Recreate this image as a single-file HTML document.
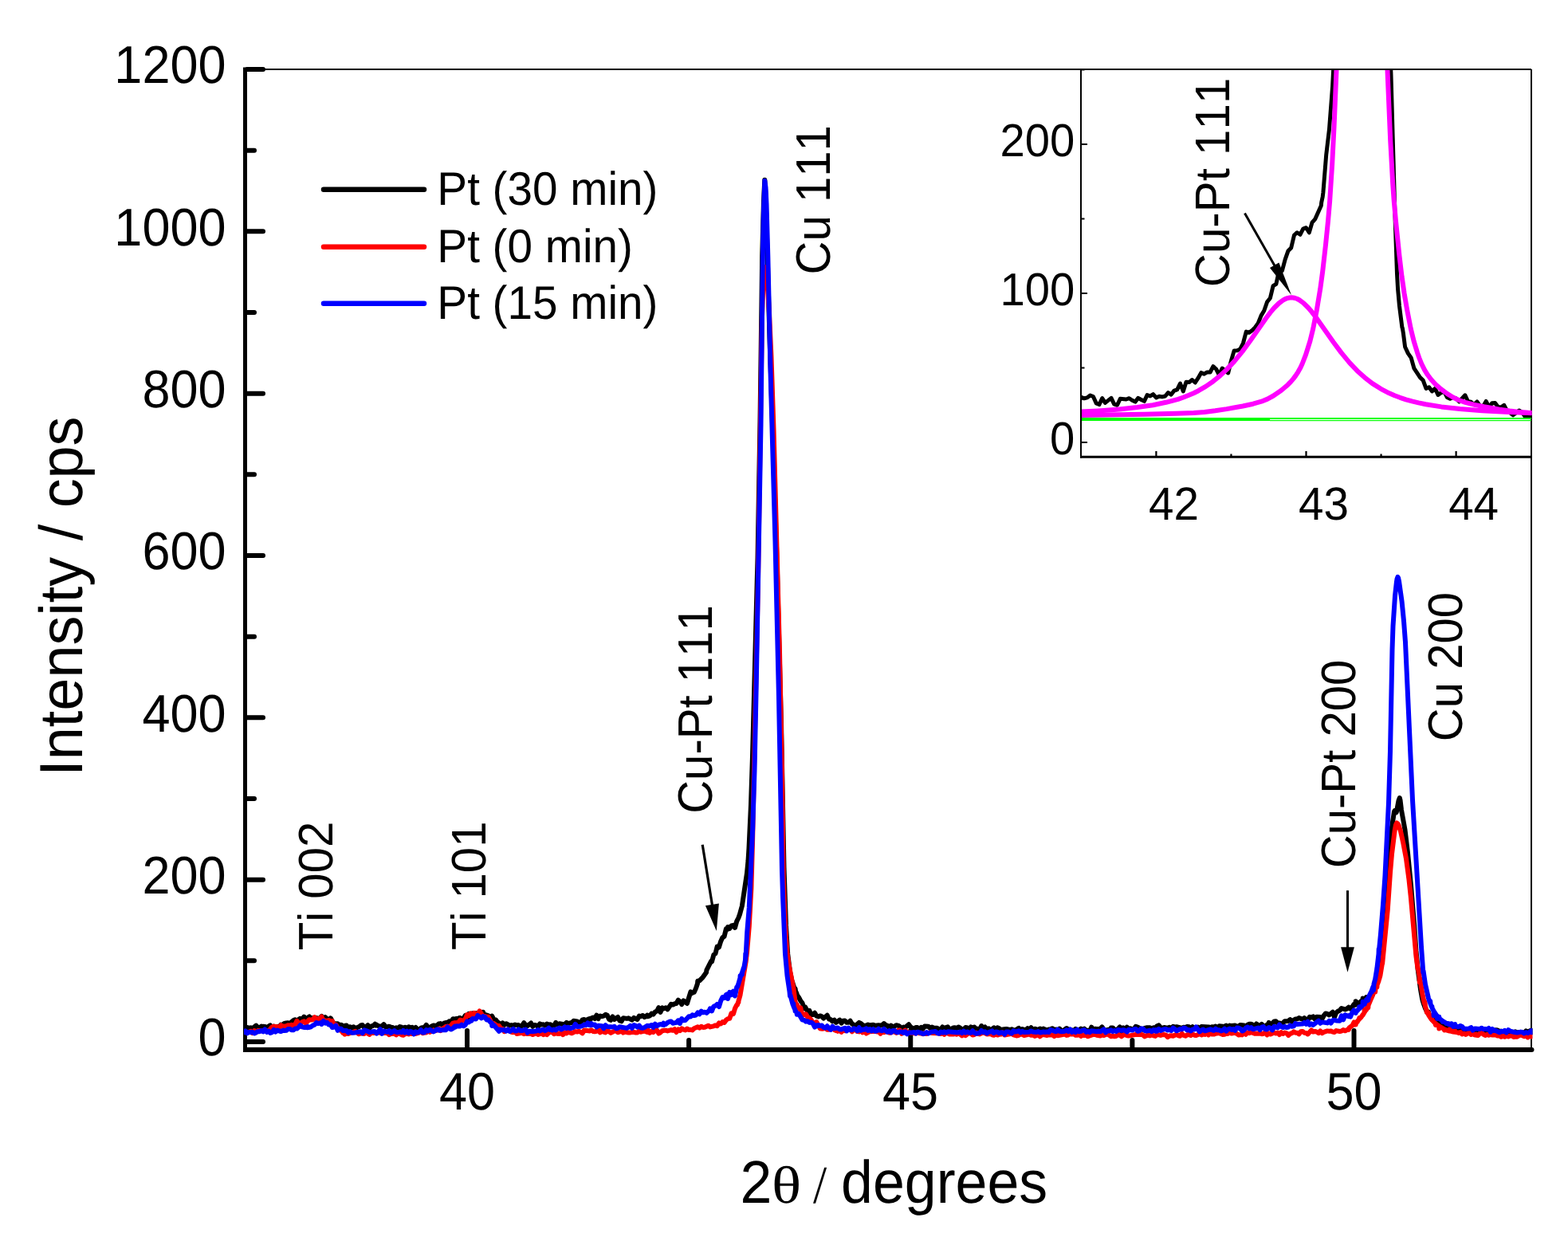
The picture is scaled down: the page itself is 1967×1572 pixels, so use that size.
<!DOCTYPE html>
<html><head><meta charset="utf-8"><title>XRD</title><style>html,body{margin:0;padding:0;background:#fff;}svg{display:block;}text{font-kerning:none;text-rendering:geometricPrecision;}</style></head><body>
<svg width="1967" height="1572" viewBox="0 0 1967 1572">
<defs><clipPath id="cm"><rect x="306" y="60" width="1616.5" height="1254"/></clipPath><clipPath id="ci"><rect x="1356" y="88" width="565.5" height="485"/></clipPath></defs>
<rect width="1967" height="1572" fill="#fff"/>
<g stroke="#000" fill="none">
<line x1="307.5" y1="87" x2="1921" y2="87" stroke-width="2"/>
<line x1="1921" y1="87" x2="1921" y2="1317" stroke-width="2"/>
<line x1="307.5" y1="84.5" x2="307.5" y2="1319.5" stroke-width="5"/>
<line x1="305" y1="1317" x2="1921" y2="1317" stroke-width="6"/>
<line x1="1921" y1="1317" x2="1921.5" y2="1317" stroke-width="6" stroke-linecap="round"/>
<line x1="310" y1="1307.00" x2="330.0" y2="1307.00" stroke-width="6" stroke-linecap="round"/>
<line x1="310" y1="1205.33" x2="319.0" y2="1205.33" stroke-width="6" stroke-linecap="round"/>
<line x1="310" y1="1103.67" x2="330.0" y2="1103.67" stroke-width="6" stroke-linecap="round"/>
<line x1="310" y1="1002.00" x2="319.0" y2="1002.00" stroke-width="6" stroke-linecap="round"/>
<line x1="310" y1="900.33" x2="330.0" y2="900.33" stroke-width="6" stroke-linecap="round"/>
<line x1="310" y1="798.66" x2="319.0" y2="798.66" stroke-width="6" stroke-linecap="round"/>
<line x1="310" y1="697.00" x2="330.0" y2="697.00" stroke-width="6" stroke-linecap="round"/>
<line x1="310" y1="595.33" x2="319.0" y2="595.33" stroke-width="6" stroke-linecap="round"/>
<line x1="310" y1="493.66" x2="330.0" y2="493.66" stroke-width="6" stroke-linecap="round"/>
<line x1="310" y1="392.00" x2="319.0" y2="392.00" stroke-width="6" stroke-linecap="round"/>
<line x1="310" y1="290.33" x2="330.0" y2="290.33" stroke-width="6" stroke-linecap="round"/>
<line x1="310" y1="188.66" x2="319.0" y2="188.66" stroke-width="6" stroke-linecap="round"/>
<line x1="310" y1="87.00" x2="330.0" y2="87.00" stroke-width="6" stroke-linecap="round"/>
<line x1="586.00" y1="1314" x2="586.00" y2="1293.0" stroke-width="6" stroke-linecap="round"/>
<line x1="864.12" y1="1314" x2="864.12" y2="1305.0" stroke-width="6" stroke-linecap="round"/>
<line x1="1142.25" y1="1314" x2="1142.25" y2="1293.0" stroke-width="6" stroke-linecap="round"/>
<line x1="1420.38" y1="1314" x2="1420.38" y2="1305.0" stroke-width="6" stroke-linecap="round"/>
<line x1="1698.50" y1="1314" x2="1698.50" y2="1293.0" stroke-width="6" stroke-linecap="round"/>
</g>
<g clip-path="url(#cm)" fill="none" stroke-width="6" stroke-linejoin="round" stroke-linecap="round">
<path stroke="#000" d="M307.0 1288.7L307.9 1288.3L312.3 1289.9L314.6 1289.3L316.8 1290.0L321.2 1286.6L323.5 1289.1L325.7 1289.2L327.9 1287.6L330.0 1288.2L330.1 1287.7L332.3 1287.9L334.6 1289.2L339.0 1286.4L341.2 1289.1L343.5 1287.5L345.7 1289.2L347.9 1287.9L350.2 1288.4L352.4 1285.6L354.6 1286.7L355.8 1284.5L356.8 1283.9L359.1 1283.4L361.3 1283.2L363.5 1286.1L365.7 1282.0L367.9 1280.3L370.2 1279.2L372.4 1281.3L374.6 1279.0L376.2 1277.9L376.8 1279.6L379.1 1279.1L381.3 1275.6L383.5 1278.7L388.0 1275.5L390.2 1278.1L392.0 1277.0L396.9 1276.9L399.1 1279.3L403.5 1274.9L405.8 1280.1L406.7 1277.4L408.0 1276.1L412.4 1280.4L414.7 1277.3L419.1 1285.2L421.4 1284.2L421.9 1284.5L423.6 1284.2L425.8 1286.2L428.0 1285.7L430.3 1287.5L434.7 1286.4L436.9 1289.5L437.2 1288.6L439.1 1288.3L441.4 1289.2L443.6 1288.2L445.8 1290.0L450.3 1288.3L452.5 1286.5L454.7 1286.0L457.0 1289.3L459.2 1288.4L461.4 1286.2L463.6 1289.8L465.9 1287.5L468.1 1286.9L470.3 1284.8L471.8 1286.7L472.5 1285.7L474.8 1287.2L477.0 1287.4L479.2 1287.4L481.4 1285.1L483.6 1288.2L485.9 1288.3L488.1 1287.7L490.3 1288.6L492.5 1289.0L494.8 1290.5L497.0 1289.3L499.2 1290.0L501.5 1288.0L503.7 1288.7L504.3 1289.6L505.9 1289.6L508.1 1288.7L510.4 1290.0L512.6 1288.2L514.8 1289.5L517.0 1288.7L519.2 1291.2L521.5 1289.0L523.7 1291.7L525.9 1292.1L528.1 1289.7L530.0 1289.2L530.4 1290.4L532.6 1288.8L534.8 1285.8L537.1 1289.7L539.3 1289.1L541.5 1287.5L543.7 1286.5L546.0 1287.0L548.2 1286.4L550.4 1284.5L552.6 1284.1L554.8 1285.9L557.1 1283.7L561.0 1282.5L561.5 1284.0L563.7 1281.2L566.0 1282.2L568.2 1278.2L570.4 1278.6L572.7 1278.0L574.9 1278.4L576.3 1276.9L577.1 1276.9L579.3 1279.6L581.6 1277.4L583.8 1274.0L586.0 1278.0L588.2 1271.9L590.4 1276.3L592.7 1271.3L594.9 1274.1L596.6 1272.4L597.1 1271.0L599.3 1272.2L601.6 1275.3L603.8 1270.1L606.0 1269.7L606.8 1272.4L612.7 1274.4L614.9 1277.1L617.2 1274.7L619.4 1279.0L622.0 1279.5L623.8 1282.0L626.0 1283.5L628.3 1286.1L630.5 1283.4L632.7 1285.9L634.9 1284.2L639.4 1286.7L641.6 1286.1L643.9 1286.5L646.1 1285.6L648.3 1286.2L650.5 1286.1L652.8 1287.7L655.0 1286.9L657.2 1283.2L659.4 1286.7L660.0 1285.6L661.6 1287.2L666.1 1283.5L668.3 1287.8L670.5 1285.9L672.8 1286.5L675.0 1288.2L677.2 1284.4L679.5 1285.5L681.7 1285.3L683.9 1286.5L686.1 1284.6L688.4 1286.1L690.0 1285.2L692.8 1286.8L695.0 1286.9L697.2 1282.9L699.5 1285.6L701.7 1284.2L706.1 1285.0L708.4 1284.9L710.6 1282.9L712.8 1284.1L717.3 1283.0L719.5 1280.8L724.0 1281.5L728.4 1283.6L730.6 1279.4L732.9 1279.0L735.1 1280.4L737.3 1278.9L739.5 1278.1L740.8 1279.1L741.7 1277.5L744.0 1276.5L746.2 1278.0L748.4 1273.7L750.6 1278.2L751.0 1276.0L752.9 1274.5L755.1 1275.2L757.3 1274.6L759.6 1272.9L761.8 1273.8L764.0 1278.7L766.2 1279.8L768.5 1275.5L770.7 1278.9L775.1 1276.0L777.3 1280.4L779.6 1281.3L781.8 1277.2L786.2 1277.9L788.5 1277.3L792.9 1279.6L795.2 1276.9L799.6 1278.9L801.8 1274.6L804.1 1275.2L806.3 1274.0L808.5 1276.1L810.7 1275.0L812.0 1273.6L812.9 1275.2L815.2 1274.4L817.4 1271.6L819.6 1272.6L821.8 1269.5L824.1 1268.5L826.3 1264.1L828.5 1269.9L830.8 1264.3L832.3 1265.4L835.2 1264.2L837.4 1266.4L841.9 1259.8L844.1 1260.6L846.3 1259.3L848.5 1259.0L850.8 1254.7L852.7 1256.3L853.0 1256.2L855.2 1260.1L857.4 1255.4L861.9 1259.0L866.4 1244.4L868.0 1246.1L868.6 1245.3L870.8 1244.9L873.0 1239.9L875.0 1234.0L875.3 1230.6L877.5 1230.3L881.9 1225.8L886.0 1220.0L886.4 1217.2L892.0 1206.0L893.0 1206.5L895.3 1197.9L897.5 1196.3L899.7 1187.6L900.0 1189.6L902.0 1188.2L904.2 1180.9L906.0 1177.0L906.4 1176.3L908.6 1174.7L910.9 1165.3L913.0 1165.8L913.1 1163.1L915.3 1164.8L917.5 1161.4L919.8 1160.8L922.0 1163.9L924.2 1155.9L926.4 1151.5L928.0 1147.1L930.9 1136.5L937.0 1095.5L938.5 1080.1L939.5 1064.2L942.0 1009.6L944.0 948.3L950.5 700.0L953.5 528.9L956.2 320.8L958.0 252.7L959.3 225.8L960.5 244.6L965.5 423.5L974.5 700.0L980.0 907.5L983.5 1088.4L986.0 1160.9L988.2 1196.8L991.0 1219.0L993.0 1228.4L993.2 1232.1L993.5 1230.4L997.0 1241.1L997.5 1242.3L997.6 1240.3L998.0 1243.4L999.5 1246.5L999.8 1248.2L1002.0 1251.2L1004.3 1255.7L1006.5 1258.4L1008.7 1265.2L1010.0 1263.3L1013.2 1268.9L1015.4 1267.9L1017.7 1273.2L1019.9 1271.9L1020.0 1273.0L1022.1 1270.8L1024.3 1274.7L1026.6 1275.5L1028.8 1274.4L1031.0 1275.3L1033.2 1277.6L1037.7 1273.7L1039.9 1278.5L1042.1 1279.1L1044.3 1281.3L1046.6 1279.7L1048.8 1282.9L1053.3 1279.6L1055.5 1283.6L1057.7 1280.8L1059.9 1280.5L1062.2 1282.8L1064.4 1282.7L1066.6 1280.8L1068.8 1284.5L1073.3 1286.8L1077.7 1282.9L1079.9 1283.9L1081.5 1285.4L1082.2 1286.9L1086.6 1286.5L1088.9 1285.5L1091.1 1286.3L1095.5 1285.8L1097.8 1286.8L1102.2 1286.2L1104.4 1286.7L1106.7 1286.0L1108.9 1284.1L1111.1 1286.0L1113.3 1286.9L1115.5 1289.5L1117.8 1286.6L1120.0 1290.1L1122.2 1287.4L1124.5 1286.3L1126.7 1286.6L1128.9 1288.0L1131.1 1290.3L1133.4 1288.6L1135.6 1289.1L1140.0 1285.3L1142.2 1288.3L1144.5 1289.8L1146.7 1290.4L1148.9 1288.9L1150.0 1288.9L1151.1 1289.2L1153.4 1290.6L1155.6 1288.9L1157.8 1290.7L1160.0 1287.6L1164.5 1287.7L1166.7 1289.9L1169.0 1288.6L1171.2 1289.5L1175.6 1289.8L1177.8 1291.2L1180.1 1291.4L1182.3 1288.4L1183.2 1289.5L1184.5 1289.8L1189.0 1288.3L1191.2 1292.0L1195.6 1289.5L1197.9 1289.3L1200.1 1290.3L1202.3 1288.5L1204.6 1289.7L1206.8 1291.6L1209.0 1291.3L1211.2 1289.0L1213.5 1289.5L1215.7 1292.7L1217.9 1288.4L1220.1 1289.5L1222.3 1288.5L1224.6 1290.8L1226.8 1290.8L1229.0 1291.9L1231.2 1287.1L1233.5 1290.7L1235.7 1288.5L1237.9 1291.4L1240.2 1290.4L1242.4 1292.8L1246.8 1289.4L1249.1 1292.4L1251.3 1289.4L1253.5 1290.3L1255.7 1292.2L1257.9 1291.5L1262.4 1290.9L1266.8 1292.0L1269.1 1291.3L1271.3 1292.3L1273.5 1292.7L1278.0 1289.9L1280.2 1293.0L1282.4 1291.1L1286.9 1292.4L1289.1 1290.1L1291.3 1291.8L1293.5 1289.3L1295.8 1292.2L1298.0 1290.7L1302.4 1292.2L1304.7 1290.5L1306.9 1291.5L1309.1 1290.6L1313.6 1292.7L1315.8 1291.5L1318.0 1291.3L1320.2 1290.2L1322.5 1292.6L1324.7 1291.5L1326.9 1293.6L1329.2 1290.6L1331.4 1292.8L1333.6 1293.7L1335.8 1291.5L1338.0 1290.0L1340.0 1291.4L1340.3 1293.4L1344.7 1292.4L1347.0 1292.9L1349.2 1290.9L1351.4 1292.4L1353.6 1292.3L1355.9 1290.6L1358.1 1292.3L1360.3 1290.7L1362.5 1292.5L1367.0 1293.5L1369.2 1288.7L1371.4 1291.5L1373.6 1290.7L1375.9 1291.0L1380.3 1290.8L1382.5 1288.4L1384.8 1292.1L1387.0 1292.7L1389.2 1292.0L1391.5 1292.3L1393.7 1289.6L1395.9 1289.4L1398.1 1291.7L1400.3 1292.2L1402.6 1290.7L1404.8 1288.4L1407.0 1293.9L1409.2 1289.4L1411.5 1291.4L1413.7 1288.6L1415.9 1291.3L1418.1 1290.2L1420.4 1291.8L1422.6 1291.0L1424.8 1287.8L1427.1 1288.5L1429.3 1290.0L1431.5 1290.6L1433.7 1291.9L1436.0 1289.9L1438.2 1289.3L1442.6 1289.3L1444.8 1290.6L1447.1 1289.2L1450.0 1289.0L1451.5 1287.2L1453.7 1286.4L1456.0 1289.1L1458.2 1289.9L1460.4 1288.9L1462.7 1289.6L1464.9 1289.8L1467.1 1288.8L1469.3 1290.1L1471.6 1287.8L1473.8 1288.7L1476.0 1288.2L1482.7 1289.8L1484.9 1288.8L1487.1 1289.2L1489.3 1288.0L1491.6 1288.3L1493.8 1290.2L1496.0 1288.2L1498.3 1290.1L1500.5 1289.1L1502.7 1288.6L1504.9 1291.0L1507.2 1288.0L1516.0 1288.4L1518.3 1289.3L1520.5 1288.2L1522.7 1288.6L1524.9 1287.6L1527.2 1289.4L1529.4 1287.3L1536.1 1288.1L1538.3 1286.6L1540.0 1287.4L1540.5 1289.7L1542.8 1286.6L1545.0 1286.9L1549.4 1286.5L1551.7 1288.0L1553.9 1287.3L1556.1 1285.9L1560.5 1286.4L1562.8 1288.8L1565.0 1285.7L1567.2 1284.7L1569.5 1284.8L1571.7 1285.8L1573.9 1288.3L1576.1 1284.5L1578.4 1286.0L1580.6 1289.4L1582.8 1284.9L1585.0 1287.6L1587.2 1287.2L1590.8 1284.9L1591.7 1282.9L1593.9 1285.2L1596.1 1284.0L1598.4 1281.4L1600.6 1281.3L1602.8 1283.6L1605.0 1283.5L1607.3 1284.7L1609.5 1283.4L1611.7 1281.2L1616.2 1280.9L1618.4 1279.1L1620.6 1281.7L1621.3 1280.3L1622.9 1280.1L1625.1 1278.4L1627.3 1278.3L1629.5 1277.1L1634.0 1278.8L1636.2 1277.2L1638.4 1279.2L1640.6 1280.0L1642.9 1275.7L1645.1 1276.5L1647.3 1275.4L1649.6 1278.7L1651.8 1275.8L1656.2 1276.0L1658.5 1278.2L1660.7 1274.2L1662.9 1271.5L1665.1 1272.0L1667.3 1273.4L1671.8 1269.8L1674.0 1276.1L1676.2 1270.5L1678.5 1268.6L1680.7 1267.7L1682.9 1265.0L1687.4 1266.4L1689.6 1265.6L1691.8 1263.7L1692.5 1265.1L1694.1 1265.6L1696.3 1263.3L1698.5 1259.9L1700.0 1260.9L1700.5 1260.6L1700.7 1256.2L1701.0 1260.3L1702.5 1259.3L1702.9 1259.4L1703.0 1259.0L1707.0 1256.8L1707.4 1256.1L1707.5 1256.5L1709.5 1255.8L1709.6 1252.6L1710.0 1255.6L1714.0 1254.3L1714.1 1250.9L1714.5 1254.2L1716.0 1253.6L1716.3 1255.7L1716.5 1253.3L1720.8 1250.6L1722.5 1246.0L1723.0 1242.4L1723.5 1242.5L1725.0 1236.1L1725.2 1232.4L1725.5 1233.7L1727.0 1226.0L1727.4 1227.7L1727.5 1223.3L1729.5 1210.5L1729.7 1211.8L1736.3 1139.2L1740.0 1083.9L1742.5 1061.0L1749.0 1018.3L1749.5 1017.2L1751.5 1019.3L1751.9 1018.5L1754.5 1004.5L1755.8 1001.0L1756.5 1003.7L1758.0 1016.2L1762.5 1041.0L1766.0 1070.0L1770.0 1110.8L1774.1 1159.8L1776.4 1192.5L1778.6 1215.5L1780.5 1230.2L1780.8 1229.5L1781.0 1234.1L1782.0 1241.2L1784.0 1252.6L1785.0 1256.7L1785.3 1253.1L1785.5 1258.3L1788.0 1265.2L1790.0 1269.3L1791.5 1271.7L1792.0 1269.5L1792.5 1273.1L1796.0 1277.1L1796.4 1279.2L1796.5 1277.6L1800.5 1280.9L1800.9 1280.4L1801.0 1281.3L1803.0 1282.6L1803.1 1284.0L1803.5 1282.9L1805.0 1283.9L1805.3 1286.6L1805.5 1284.2L1809.5 1286.6L1809.8 1285.8L1810.0 1286.9L1811.5 1287.7L1812.0 1289.0L1812.5 1288.2L1814.2 1289.1L1816.4 1289.5L1816.5 1289.8L1818.5 1290.4L1818.6 1289.6L1819.0 1290.5L1820.5 1290.8L1820.9 1291.3L1821.0 1290.9L1823.0 1291.2L1823.1 1290.6L1823.5 1291.3L1825.0 1291.6L1825.3 1292.7L1825.5 1291.6L1829.5 1292.2L1829.8 1293.5L1832.0 1291.1L1834.2 1292.8L1836.5 1293.9L1840.9 1293.6L1843.1 1292.6L1845.4 1295.5L1849.8 1294.2L1852.0 1290.9L1856.5 1294.1L1858.7 1293.2L1860.9 1291.7L1863.1 1294.4L1865.4 1294.6L1867.6 1292.8L1869.8 1293.7L1872.1 1293.5L1874.3 1294.9L1876.5 1292.2L1878.7 1292.5L1881.0 1293.8L1883.2 1293.7L1885.4 1296.8L1887.6 1293.8L1889.8 1294.8L1894.3 1293.9L1898.7 1296.6L1901.0 1294.3L1903.2 1295.6L1905.4 1295.1L1907.7 1295.4L1909.9 1295.2L1912.1 1297.4L1914.3 1293.4L1916.6 1294.5L1921.0 1292.6L1922.0 1294.8"/>
<path stroke="#f00" d="M307.0 1294.1L307.9 1295.1L310.1 1295.5L314.6 1293.8L316.8 1296.1L319.0 1293.2L321.2 1295.3L323.5 1293.0L327.9 1293.3L330.0 1292.8L332.3 1293.2L334.6 1292.9L336.8 1293.9L341.2 1288.5L343.5 1287.7L347.9 1288.3L350.2 1289.7L352.4 1286.2L354.6 1287.8L359.1 1287.3L361.3 1286.3L363.5 1286.6L365.7 1285.7L367.9 1286.8L370.2 1285.3L372.4 1280.8L374.6 1284.0L376.8 1283.8L379.1 1282.1L381.3 1281.4L383.5 1283.8L388.0 1279.2L390.2 1279.6L392.4 1279.2L394.7 1276.2L396.9 1279.5L399.1 1277.9L401.3 1278.8L401.6 1277.9L403.5 1275.5L405.8 1281.8L408.0 1280.3L410.2 1280.9L412.4 1279.9L414.7 1281.0L416.8 1283.0L416.9 1280.9L419.1 1287.0L421.4 1285.6L423.6 1289.4L425.8 1292.3L428.0 1292.8L430.3 1295.9L432.1 1295.3L432.5 1297.6L434.7 1295.8L436.9 1297.1L441.4 1295.1L443.6 1295.2L445.8 1293.8L450.3 1297.3L452.5 1296.4L457.0 1297.0L459.2 1295.2L463.6 1297.9L465.9 1295.0L468.1 1295.9L470.0 1295.8L470.3 1295.4L472.5 1295.8L474.8 1295.3L477.0 1296.0L479.2 1294.9L481.4 1295.9L485.9 1296.1L488.1 1298.2L490.3 1297.0L492.5 1297.1L494.8 1296.7L497.0 1298.4L499.2 1295.4L500.0 1297.0L501.5 1296.9L503.7 1298.2L505.9 1298.7L508.1 1297.2L510.4 1296.9L512.6 1297.4L514.8 1296.4L517.0 1297.1L519.2 1295.7L521.5 1296.9L525.0 1295.8L528.1 1292.7L530.4 1296.3L532.6 1295.4L534.8 1295.4L537.1 1293.1L539.3 1294.9L543.7 1292.5L546.0 1293.2L548.2 1292.6L550.4 1291.5L550.8 1290.7L552.6 1293.0L559.3 1287.9L561.5 1287.6L563.7 1289.1L568.2 1283.6L570.4 1283.1L571.2 1283.6L572.7 1283.1L574.9 1283.4L577.1 1279.7L579.3 1280.4L581.6 1280.2L583.8 1278.3L586.0 1273.0L588.2 1274.2L590.4 1271.5L592.7 1273.9L594.9 1270.8L596.6 1272.4L597.1 1273.6L599.3 1272.9L601.6 1268.4L606.0 1275.2L606.8 1274.5L610.5 1275.7L612.7 1275.8L617.2 1284.5L619.4 1284.0L623.8 1286.9L626.0 1287.1L628.3 1290.3L630.5 1291.1L632.2 1292.8L632.7 1294.2L634.9 1292.4L637.2 1291.6L639.4 1293.6L641.6 1294.7L643.9 1295.2L646.1 1293.8L648.3 1297.0L655.0 1295.9L657.2 1297.2L659.4 1296.5L661.6 1297.1L663.9 1296.7L666.1 1297.0L668.3 1298.1L672.8 1296.0L675.0 1297.9L679.5 1296.3L681.7 1298.1L683.9 1296.8L686.1 1298.1L688.4 1295.9L690.6 1294.7L692.8 1295.0L695.0 1297.3L697.2 1296.3L700.0 1297.0L701.7 1296.9L703.9 1295.4L706.1 1298.2L708.4 1295.5L710.6 1296.5L712.8 1294.7L717.3 1296.3L721.7 1294.1L724.0 1294.6L726.2 1293.8L728.4 1294.7L730.6 1296.4L732.9 1292.6L740.0 1293.4L741.7 1292.2L744.0 1294.0L746.2 1294.3L748.4 1293.8L750.6 1292.2L752.9 1295.4L755.1 1292.4L757.3 1294.7L759.6 1295.4L761.8 1292.7L766.2 1295.9L770.7 1293.6L772.9 1293.4L775.1 1295.3L777.3 1294.4L779.6 1294.1L781.5 1294.9L781.8 1295.6L784.0 1294.5L788.5 1295.5L790.7 1295.5L792.9 1294.8L795.2 1294.9L797.4 1295.5L799.6 1295.4L801.8 1293.7L804.1 1294.7L808.5 1293.6L812.0 1294.9L812.9 1292.3L815.2 1295.8L817.4 1293.9L819.6 1295.1L821.8 1292.5L824.1 1292.5L826.3 1296.6L828.5 1295.3L830.8 1293.2L833.0 1292.8L835.2 1292.7L837.4 1293.4L841.9 1292.1L844.1 1292.8L846.3 1291.2L848.5 1295.0L850.8 1291.2L852.7 1291.9L853.0 1293.1L855.2 1290.4L857.4 1291.7L859.7 1292.4L861.9 1290.5L864.1 1292.0L866.4 1291.8L868.6 1292.4L870.8 1290.2L875.3 1288.3L877.5 1289.6L879.7 1287.8L881.9 1288.9L884.1 1288.8L888.6 1286.7L890.8 1288.4L895.3 1287.3L897.5 1286.4L899.7 1287.1L902.0 1283.3L904.2 1284.5L906.0 1283.0L906.4 1282.1L908.6 1283.0L910.9 1279.7L913.1 1278.1L915.3 1277.8L917.5 1271.2L919.8 1271.6L920.0 1272.0L922.0 1265.1L924.2 1260.9L925.0 1260.6L926.0 1257.4L926.4 1257.5L926.5 1255.7L928.6 1248.1L935.5 1207.6L937.0 1195.2L939.8 1162.1L942.4 1114.0L944.0 1058.0L951.0 726.8L955.9 400.1L957.5 351.3L958.5 340.6L959.0 337.1L959.7 335.1L960.5 337.4L961.0 340.8L962.5 354.3L965.0 392.5L967.5 448.2L970.5 537.9L978.0 818.1L981.0 969.2L982.7 1100.0L984.5 1148.4L986.0 1176.3L987.6 1196.8L989.5 1209.9L995.4 1239.9L997.6 1256.9L999.5 1261.6L999.8 1260.5L1002.1 1265.7L1004.3 1264.5L1006.5 1274.2L1008.7 1272.8L1011.0 1272.3L1013.2 1276.3L1015.4 1277.3L1017.7 1279.7L1019.9 1283.7L1022.1 1283.5L1024.3 1282.1L1028.8 1290.4L1030.7 1289.5L1031.0 1290.8L1033.2 1290.5L1035.4 1289.0L1037.7 1291.7L1039.9 1291.8L1042.1 1290.0L1044.3 1290.2L1046.6 1292.0L1048.8 1293.1L1050.0 1291.7L1051.0 1293.8L1053.3 1292.9L1055.5 1294.9L1057.7 1291.4L1059.9 1293.2L1064.4 1290.4L1066.6 1291.4L1068.8 1294.3L1071.0 1292.0L1073.3 1291.7L1075.5 1294.1L1077.7 1294.4L1079.9 1293.5L1081.7 1293.5L1082.2 1295.4L1084.4 1291.9L1086.6 1296.5L1091.1 1294.2L1097.8 1293.8L1100.0 1294.5L1102.2 1293.0L1104.4 1296.8L1106.7 1294.4L1108.9 1295.3L1111.1 1294.5L1113.3 1294.4L1115.5 1295.8L1117.8 1295.5L1120.0 1294.0L1122.2 1294.6L1124.5 1295.8L1126.7 1292.8L1128.9 1292.6L1131.1 1296.9L1135.6 1292.6L1137.8 1294.6L1142.2 1295.8L1148.9 1296.4L1151.1 1295.0L1153.4 1296.3L1155.6 1296.5L1157.8 1297.3L1160.0 1296.2L1162.3 1297.1L1166.7 1295.2L1169.0 1296.0L1180.0 1296.6L1180.1 1297.0L1182.3 1295.9L1184.5 1297.8L1186.8 1295.4L1191.2 1297.6L1195.6 1297.6L1197.9 1296.8L1200.1 1297.7L1202.3 1295.8L1206.8 1299.4L1209.0 1297.8L1211.2 1299.2L1213.5 1297.2L1215.7 1296.1L1217.9 1296.6L1220.1 1298.6L1222.3 1298.1L1224.6 1295.5L1226.8 1297.0L1229.0 1297.4L1233.5 1295.0L1237.9 1297.4L1242.4 1296.9L1244.6 1298.2L1246.8 1298.7L1249.1 1297.6L1251.3 1298.6L1253.5 1297.7L1255.7 1297.6L1257.9 1295.4L1260.2 1298.6L1269.1 1296.8L1271.3 1298.4L1275.8 1299.5L1278.0 1298.8L1280.2 1297.4L1282.4 1297.9L1284.7 1299.0L1291.3 1297.6L1293.5 1298.7L1295.8 1298.3L1298.0 1299.9L1300.2 1299.2L1302.4 1296.6L1304.7 1300.3L1306.9 1298.5L1309.1 1298.0L1313.6 1299.0L1315.8 1298.3L1320.2 1298.4L1322.5 1300.1L1324.7 1298.5L1326.9 1299.2L1335.8 1297.6L1338.0 1298.9L1340.0 1298.5L1340.3 1297.6L1347.0 1297.2L1349.2 1298.7L1351.4 1298.7L1353.6 1297.8L1355.9 1299.9L1358.1 1298.4L1360.3 1299.1L1362.5 1299.0L1364.8 1300.3L1371.4 1297.9L1373.6 1297.8L1375.9 1298.8L1380.3 1299.5L1382.5 1298.4L1384.8 1299.0L1389.2 1297.2L1393.7 1300.2L1395.9 1299.7L1398.1 1300.2L1400.3 1300.0L1402.6 1297.7L1404.8 1298.7L1407.0 1300.3L1409.2 1298.4L1411.5 1297.8L1413.7 1299.3L1415.9 1299.6L1424.8 1297.9L1431.5 1297.8L1433.7 1298.4L1436.0 1300.4L1438.2 1299.2L1440.4 1298.8L1442.6 1299.4L1444.8 1298.2L1447.1 1299.4L1449.3 1299.9L1451.5 1297.8L1456.0 1298.9L1458.2 1298.2L1460.4 1298.0L1462.7 1298.7L1464.9 1301.2L1467.1 1299.5L1469.3 1299.3L1471.6 1299.8L1476.0 1297.7L1478.2 1299.2L1480.4 1299.7L1482.7 1296.7L1484.9 1299.0L1487.1 1299.7L1489.3 1298.2L1491.6 1298.0L1493.8 1299.0L1496.0 1297.5L1498.3 1298.7L1500.5 1299.0L1504.9 1297.2L1507.2 1298.5L1509.4 1297.5L1511.6 1297.9L1513.8 1295.0L1516.0 1298.4L1518.3 1296.3L1520.5 1297.6L1522.7 1297.6L1524.9 1296.7L1529.4 1296.1L1533.9 1297.9L1536.1 1297.7L1538.3 1296.7L1540.0 1297.1L1540.5 1296.5L1542.8 1295.7L1545.0 1296.6L1549.4 1295.5L1553.9 1298.5L1556.1 1298.1L1558.3 1298.4L1560.5 1295.2L1562.8 1297.7L1565.0 1295.6L1567.2 1296.2L1569.5 1295.0L1573.9 1296.8L1580.6 1296.5L1582.8 1297.2L1585.0 1296.7L1587.2 1294.9L1589.5 1298.4L1591.7 1296.3L1593.9 1297.5L1598.4 1295.6L1600.6 1296.5L1602.8 1295.6L1605.0 1298.1L1607.3 1295.2L1609.5 1297.0L1611.7 1295.6L1614.0 1296.1L1616.2 1299.0L1618.4 1297.0L1620.6 1295.9L1621.0 1296.1L1622.9 1294.4L1625.1 1295.7L1627.3 1295.7L1629.5 1297.4L1631.7 1294.3L1634.0 1293.9L1636.2 1295.7L1638.4 1295.9L1640.6 1297.4L1645.1 1292.5L1647.3 1294.6L1649.6 1293.9L1651.8 1294.6L1654.0 1296.1L1656.2 1293.4L1658.5 1296.2L1660.7 1294.9L1665.1 1293.4L1667.3 1293.7L1669.6 1293.5L1671.8 1294.6L1674.0 1295.0L1676.2 1293.1L1680.7 1294.0L1682.9 1293.6L1685.2 1292.1L1687.4 1293.3L1689.6 1292.1L1691.8 1291.9L1692.5 1289.5L1696.3 1286.8L1698.5 1282.5L1700.0 1284.0L1700.5 1283.5L1700.7 1285.6L1701.0 1283.0L1702.7 1281.3L1702.9 1282.1L1703.0 1281.0L1705.0 1278.8L1705.2 1277.1L1705.5 1278.2L1707.4 1276.3L1709.5 1273.1L1709.6 1273.5L1711.5 1270.2L1711.8 1266.3L1712.0 1269.4L1714.0 1266.1L1714.1 1266.7L1716.0 1262.3L1716.3 1264.2L1716.5 1261.3L1720.5 1251.9L1720.8 1250.5L1721.0 1250.7L1722.5 1247.0L1723.0 1245.1L1725.0 1241.3L1725.2 1244.5L1725.5 1240.3L1727.0 1237.0L1727.4 1238.6L1727.5 1235.9L1729.5 1230.6L1729.7 1228.7L1730.0 1229.0L1731.5 1223.6L1734.0 1208.2L1734.1 1209.1L1740.8 1140.9L1744.0 1094.6L1746.0 1071.4L1749.7 1041.7L1751.0 1034.8L1752.2 1032.5L1753.5 1033.4L1754.5 1035.1L1757.0 1042.9L1760.0 1056.3L1764.0 1077.4L1767.5 1103.7L1769.7 1124.1L1776.5 1200.2L1778.6 1215.5L1779.0 1215.8L1780.6 1224.4L1780.8 1232.4L1781.0 1226.8L1785.0 1250.5L1785.3 1250.2L1785.5 1252.9L1787.0 1259.2L1787.5 1257.0L1788.0 1262.8L1789.5 1267.4L1789.7 1269.8L1790.0 1268.8L1791.5 1272.3L1792.0 1270.4L1792.5 1274.1L1794.0 1276.4L1794.2 1273.8L1794.5 1277.1L1796.0 1279.1L1796.4 1277.0L1796.5 1279.7L1800.5 1283.9L1800.9 1286.0L1801.0 1284.3L1803.1 1286.1L1805.0 1287.2L1805.3 1290.5L1805.5 1287.5L1811.5 1291.0L1812.0 1292.5L1812.5 1291.4L1814.2 1292.4L1818.5 1293.5L1818.6 1291.3L1818.8 1293.6L1820.5 1293.9L1820.9 1292.5L1821.0 1294.0L1823.1 1294.5L1825.0 1294.8L1825.3 1293.5L1825.5 1294.9L1829.5 1295.5L1829.8 1295.9L1832.0 1294.9L1834.2 1297.5L1836.5 1296.7L1838.7 1298.0L1843.1 1295.4L1845.4 1298.0L1847.6 1297.2L1849.8 1298.4L1851.4 1297.6L1852.0 1298.8L1854.2 1299.0L1856.5 1296.5L1858.7 1295.8L1860.9 1297.7L1863.1 1299.0L1865.4 1297.8L1867.6 1298.8L1869.8 1297.9L1872.1 1298.5L1876.5 1298.4L1878.7 1299.6L1881.0 1299.5L1883.2 1300.8L1885.4 1299.7L1887.6 1300.7L1889.8 1299.6L1892.1 1300.4L1894.3 1299.6L1896.5 1299.3L1898.7 1301.0L1901.0 1300.5L1903.2 1300.7L1905.4 1299.3L1907.7 1298.5L1912.1 1300.3L1914.3 1298.8L1916.6 1301.4L1918.8 1298.8L1921.0 1300.6L1922.0 1300.1"/>
<path stroke="#00f" d="M307.0 1295.2L307.9 1293.4L310.1 1296.3L312.3 1294.9L314.6 1295.2L316.8 1294.8L319.0 1296.5L323.5 1294.1L325.7 1294.2L327.9 1293.0L330.0 1294.3L332.3 1291.5L334.6 1294.9L336.8 1293.6L339.0 1296.0L341.2 1295.1L343.5 1292.0L345.7 1294.5L347.9 1292.6L352.4 1294.1L355.8 1292.6L356.8 1293.1L359.1 1292.8L361.3 1291.1L363.5 1290.9L365.7 1292.2L367.9 1292.3L370.2 1290.5L372.4 1290.6L374.6 1288.8L376.8 1286.2L379.1 1288.3L381.3 1289.0L383.5 1288.8L385.8 1289.3L386.3 1288.0L388.0 1288.9L390.2 1288.3L392.4 1286.5L394.7 1285.6L396.9 1283.0L399.1 1284.1L402.6 1283.0L403.5 1285.0L405.8 1281.0L408.0 1283.6L410.2 1282.8L412.4 1285.5L414.7 1285.6L416.9 1289.0L419.1 1288.5L421.4 1286.7L423.6 1292.8L425.8 1290.6L428.0 1290.8L430.3 1293.1L434.7 1293.1L436.9 1295.5L437.2 1294.7L439.1 1294.2L441.4 1295.7L445.8 1295.4L452.5 1294.2L454.7 1296.3L457.0 1292.4L461.4 1293.9L463.6 1295.1L468.1 1294.1L470.0 1294.7L470.3 1294.2L472.5 1296.6L477.0 1291.3L479.2 1296.8L481.4 1293.5L485.9 1294.8L488.1 1293.1L490.3 1296.1L494.8 1293.0L497.0 1294.9L499.2 1295.2L501.5 1294.6L503.7 1295.2L505.0 1294.7L505.9 1292.9L508.1 1295.7L510.4 1293.7L512.6 1296.1L514.8 1293.8L517.0 1294.7L519.2 1297.5L521.5 1294.4L523.7 1295.6L525.9 1294.8L528.1 1292.3L530.4 1295.4L532.6 1295.2L534.8 1292.1L537.1 1293.6L539.3 1291.7L543.7 1294.4L546.0 1293.2L548.2 1291.4L550.4 1291.6L550.8 1292.8L557.1 1292.1L559.3 1292.3L561.5 1288.5L563.7 1290.5L566.0 1291.5L568.2 1290.1L570.4 1287.8L571.2 1288.6L572.7 1287.3L577.1 1287.5L579.3 1285.6L581.6 1287.2L583.8 1285.7L586.0 1281.4L588.2 1282.5L590.4 1280.3L591.5 1280.6L592.7 1278.1L597.1 1278.5L599.3 1274.0L603.8 1277.3L606.0 1275.1L606.8 1276.4L608.3 1275.9L610.5 1279.4L612.7 1279.6L614.9 1282.1L617.0 1283.6L617.2 1286.9L619.4 1286.0L626.0 1293.7L627.1 1291.7L628.3 1292.3L632.7 1292.0L634.9 1293.7L637.2 1291.5L639.4 1294.0L641.6 1292.8L643.9 1290.9L646.1 1293.5L648.3 1293.3L650.5 1291.4L652.8 1293.2L655.0 1293.1L659.4 1291.5L661.6 1295.5L663.9 1293.8L668.3 1294.0L672.8 1293.6L675.0 1292.1L677.2 1293.5L679.5 1292.2L681.7 1291.7L683.9 1293.1L686.1 1291.9L688.4 1289.8L690.0 1291.9L690.6 1291.4L692.8 1292.5L695.0 1291.6L697.2 1292.5L699.5 1290.7L701.7 1289.6L703.9 1291.6L706.1 1290.5L708.4 1288.3L710.6 1290.2L712.8 1288.9L715.0 1290.3L717.3 1289.6L719.5 1288.9L721.7 1284.8L724.0 1288.1L728.4 1287.8L730.6 1287.0L732.9 1285.6L735.1 1286.2L737.3 1283.3L739.5 1286.0L740.8 1286.3L741.7 1284.1L744.0 1285.9L746.2 1285.5L748.4 1288.6L750.6 1286.8L755.1 1287.3L757.3 1290.3L759.6 1286.1L761.8 1288.1L768.5 1288.5L770.7 1287.8L772.9 1290.3L775.1 1289.9L777.3 1288.3L786.2 1289.9L788.5 1288.7L790.7 1286.9L792.9 1289.9L795.2 1286.1L797.4 1286.9L799.6 1288.6L801.8 1286.6L804.1 1289.6L806.3 1289.8L808.5 1289.0L812.0 1286.8L812.9 1287.1L815.2 1287.2L817.4 1286.0L819.6 1289.0L821.8 1284.7L824.1 1287.2L826.3 1285.7L828.5 1285.0L830.8 1285.7L832.3 1283.7L833.0 1285.8L835.2 1284.9L837.4 1283.0L839.7 1281.8L841.9 1281.5L844.1 1283.7L848.5 1282.9L850.8 1280.3L852.7 1280.7L853.0 1284.0L855.2 1278.0L857.4 1280.2L859.7 1280.0L864.1 1275.2L866.4 1275.5L868.6 1273.3L870.8 1274.1L873.0 1273.6L875.3 1270.4L877.5 1272.3L879.7 1268.6L881.9 1270.3L884.1 1269.7L886.4 1270.9L890.0 1267.5L890.8 1265.4L893.0 1268.4L895.3 1262.7L899.0 1261.0L899.7 1259.8L902.0 1263.0L904.2 1255.6L906.4 1251.1L908.6 1251.9L910.9 1247.9L913.0 1247.0L913.1 1252.9L915.3 1244.9L917.5 1248.0L919.8 1243.7L921.0 1245.6L922.0 1249.5L924.2 1238.6L925.0 1238.1L926.4 1234.3L928.5 1226.9L928.6 1224.3L928.8 1226.0L930.5 1221.4L930.9 1222.9L931.0 1220.1L933.0 1214.0L933.1 1215.3L935.0 1204.3L935.3 1196.4L935.6 1200.2L937.2 1170.0L939.8 1138.5L944.2 1039.4L946.5 966.7L948.7 859.9L954.5 532.7L957.0 307.6L958.0 264.2L959.4 226.8L960.5 235.2L961.5 256.2L963.3 320.8L966.5 464.3L972.5 679.9L977.0 875.2L981.0 1091.5L982.1 1126.1L985.0 1196.8L987.5 1224.0L990.5 1244.0L991.0 1249.4L991.5 1248.9L994.5 1259.9L995.0 1261.2L995.4 1259.3L995.5 1262.5L997.5 1267.2L997.6 1268.4L998.0 1268.2L999.5 1270.8L999.8 1272.7L1000.0 1271.4L1002.1 1271.9L1006.5 1279.5L1008.7 1279.7L1011.0 1281.7L1012.0 1281.1L1013.2 1281.3L1015.4 1282.9L1017.7 1282.6L1019.9 1284.4L1022.1 1288.7L1024.3 1286.5L1025.0 1287.2L1026.6 1286.1L1028.8 1287.1L1031.0 1286.5L1033.2 1289.0L1035.4 1289.7L1037.7 1287.3L1039.9 1290.2L1042.1 1291.9L1044.3 1287.6L1046.6 1290.2L1051.0 1289.5L1053.3 1291.5L1055.5 1291.4L1059.9 1289.7L1062.2 1293.4L1064.4 1289.6L1066.6 1292.3L1068.8 1292.3L1071.0 1290.2L1073.3 1291.3L1075.5 1293.4L1077.7 1289.2L1079.9 1292.8L1082.2 1291.6L1084.4 1291.8L1086.6 1290.4L1088.9 1292.9L1091.1 1291.2L1091.7 1292.5L1093.3 1293.5L1095.5 1291.3L1097.8 1293.8L1100.0 1293.4L1102.2 1290.8L1104.4 1292.9L1106.7 1293.2L1108.9 1290.9L1111.1 1293.2L1113.3 1294.7L1115.5 1293.1L1117.8 1295.4L1120.0 1292.9L1122.2 1292.9L1124.5 1295.1L1126.7 1295.2L1128.9 1294.4L1131.1 1294.7L1133.4 1295.9L1135.6 1294.3L1137.8 1297.3L1140.0 1295.6L1144.5 1295.5L1146.7 1294.9L1148.9 1296.6L1150.0 1295.3L1151.1 1294.7L1157.8 1296.9L1160.0 1296.7L1162.3 1295.1L1164.5 1296.6L1169.0 1294.4L1171.2 1294.4L1173.4 1293.9L1175.6 1295.9L1177.8 1296.8L1180.1 1294.5L1183.0 1295.6L1184.5 1294.4L1186.8 1295.6L1189.0 1294.3L1200.1 1295.3L1202.3 1295.3L1204.6 1294.5L1206.8 1296.1L1209.0 1293.6L1211.2 1295.6L1213.5 1294.4L1215.7 1295.6L1217.9 1295.8L1220.1 1293.2L1222.3 1295.8L1224.6 1296.8L1229.0 1295.8L1231.2 1293.0L1233.5 1295.1L1235.7 1294.3L1237.9 1296.4L1240.2 1294.9L1242.4 1294.5L1244.6 1293.3L1246.8 1296.0L1249.1 1294.5L1251.3 1294.8L1253.5 1296.3L1255.7 1295.2L1257.9 1295.4L1260.2 1297.7L1262.4 1294.4L1264.6 1294.4L1269.1 1296.5L1271.3 1293.3L1273.5 1294.6L1278.0 1293.3L1280.2 1295.4L1282.4 1293.9L1284.7 1295.0L1291.3 1294.7L1293.5 1293.4L1295.8 1294.5L1298.0 1294.7L1300.2 1294.9L1302.4 1294.1L1304.7 1295.5L1309.1 1294.5L1311.4 1295.0L1313.6 1294.5L1315.8 1295.0L1318.0 1292.0L1324.7 1294.3L1326.9 1291.6L1329.2 1293.8L1331.4 1294.2L1335.8 1293.7L1338.0 1292.4L1340.3 1294.0L1342.5 1291.5L1344.7 1294.9L1347.0 1293.1L1349.2 1295.0L1351.4 1291.7L1353.6 1294.2L1355.9 1293.8L1358.1 1292.6L1360.3 1292.2L1362.5 1294.9L1364.8 1294.0L1367.0 1295.2L1369.2 1293.3L1375.9 1294.2L1378.1 1293.8L1380.3 1294.2L1384.8 1291.4L1387.0 1295.4L1389.2 1293.2L1391.5 1293.5L1393.7 1292.4L1395.9 1294.1L1398.1 1293.1L1400.3 1294.1L1402.6 1292.0L1407.0 1292.9L1409.2 1292.2L1411.5 1292.9L1413.7 1294.5L1415.9 1291.8L1420.4 1292.6L1422.6 1291.2L1424.8 1290.9L1427.1 1293.7L1429.3 1293.3L1431.5 1290.4L1433.7 1290.5L1436.0 1293.1L1438.2 1293.6L1442.6 1292.7L1444.8 1294.1L1447.1 1292.0L1449.3 1293.7L1450.0 1292.1L1451.5 1293.6L1453.7 1290.9L1456.0 1292.9L1460.4 1291.2L1462.7 1290.9L1464.9 1292.4L1467.1 1291.9L1469.3 1293.0L1471.6 1289.7L1473.8 1291.1L1476.0 1293.3L1480.4 1291.0L1482.7 1291.3L1484.9 1289.6L1487.1 1290.1L1489.3 1292.5L1491.6 1292.0L1493.8 1293.4L1496.0 1291.5L1498.3 1291.6L1500.5 1288.4L1504.9 1294.4L1507.2 1292.6L1509.4 1291.6L1511.6 1293.3L1518.3 1291.3L1522.7 1292.8L1524.9 1290.7L1527.2 1292.3L1529.4 1292.3L1531.6 1293.4L1533.9 1292.6L1536.1 1290.8L1538.3 1293.6L1540.0 1291.5L1540.5 1291.6L1542.8 1290.6L1545.0 1292.0L1547.2 1291.1L1549.4 1292.8L1551.7 1289.6L1553.9 1289.8L1556.1 1290.9L1558.3 1293.4L1560.5 1292.4L1562.8 1289.7L1565.0 1288.6L1567.2 1290.4L1569.5 1289.0L1571.7 1291.3L1578.4 1289.6L1580.6 1292.1L1582.8 1288.7L1585.0 1288.1L1587.2 1291.3L1589.5 1291.4L1590.8 1289.5L1591.7 1289.0L1593.9 1290.2L1596.1 1292.4L1598.4 1287.9L1602.8 1289.3L1605.0 1285.5L1607.3 1288.1L1609.5 1289.1L1611.7 1287.7L1614.0 1289.1L1616.2 1288.5L1618.4 1286.6L1620.6 1287.7L1622.9 1287.3L1625.1 1283.9L1627.3 1284.9L1634.0 1284.6L1636.2 1282.9L1638.4 1284.8L1640.6 1281.7L1641.7 1284.4L1642.9 1285.8L1645.1 1284.4L1647.3 1285.9L1654.0 1280.7L1656.2 1283.8L1658.5 1282.4L1665.1 1283.4L1667.3 1281.0L1669.6 1283.6L1671.8 1280.1L1674.0 1279.8L1676.2 1280.5L1680.7 1280.7L1682.9 1274.4L1685.2 1279.3L1687.4 1273.4L1691.8 1275.1L1692.5 1274.2L1694.1 1275.6L1696.3 1270.2L1698.5 1267.4L1700.0 1269.7L1700.5 1269.4L1700.7 1271.0L1701.0 1269.0L1702.5 1267.8L1702.9 1268.0L1703.0 1267.4L1705.0 1265.6L1705.2 1263.3L1705.5 1265.2L1707.0 1263.8L1707.4 1262.7L1707.5 1263.3L1709.5 1261.2L1709.6 1256.7L1710.0 1260.7L1711.5 1258.9L1711.8 1259.8L1712.0 1258.3L1714.0 1255.6L1714.1 1254.2L1714.5 1254.8L1716.0 1252.4L1716.3 1254.9L1716.5 1251.6L1720.5 1243.5L1720.8 1244.7L1721.0 1242.2L1722.5 1237.9L1723.0 1242.2L1723.5 1234.6L1725.2 1228.2L1727.4 1214.8L1729.5 1196.9L1729.7 1190.8L1730.0 1192.0L1731.9 1172.9L1735.0 1135.1L1737.5 1098.7L1742.0 1007.5L1744.0 942.7L1746.5 814.7L1747.5 785.5L1750.0 747.6L1752.0 729.7L1752.5 726.5L1753.4 723.9L1754.1 725.1L1755.0 729.1L1758.6 754.7L1761.0 779.1L1763.0 805.8L1772.0 1003.8L1783.0 1188.0L1785.3 1219.9L1785.5 1217.9L1788.0 1234.9L1792.0 1252.5L1794.0 1258.2L1794.2 1256.1L1794.5 1259.6L1796.0 1263.4L1796.4 1262.8L1796.5 1264.5L1798.5 1268.4L1798.6 1274.2L1799.0 1269.3L1803.0 1275.2L1803.1 1278.0L1803.5 1275.8L1805.0 1277.3L1805.3 1275.7L1805.5 1277.7L1809.5 1280.8L1809.8 1281.8L1810.0 1281.2L1814.0 1283.5L1814.2 1284.0L1814.5 1283.7L1816.0 1284.4L1816.4 1284.1L1816.5 1284.6L1818.5 1285.4L1818.6 1284.4L1818.8 1285.4L1820.5 1286.0L1820.9 1284.2L1821.0 1286.1L1823.0 1286.7L1823.1 1288.1L1823.5 1286.8L1825.0 1287.2L1825.3 1285.0L1825.5 1287.3L1829.5 1288.2L1832.0 1287.1L1834.2 1288.1L1836.5 1290.7L1843.1 1290.4L1845.4 1289.1L1847.6 1292.5L1849.8 1290.4L1856.5 1290.9L1858.7 1289.8L1860.9 1291.2L1863.1 1290.9L1865.4 1291.4L1867.6 1290.0L1869.8 1294.7L1872.1 1291.0L1874.3 1293.0L1875.8 1292.8L1881.0 1295.3L1883.2 1293.7L1885.4 1294.2L1887.6 1292.9L1889.8 1295.4L1892.1 1292.1L1894.3 1293.5L1896.5 1294.3L1903.2 1295.6L1907.7 1294.6L1909.9 1294.9L1912.1 1296.4L1914.3 1295.2L1916.6 1296.0L1918.8 1294.9L1921.0 1293.1L1922.0 1295.2"/>
</g>
<g  fill="#000" style="font-family:'Liberation Sans',Arial,Helvetica,sans-serif;font-kerning:none">
<text transform="translate(283.50 1324.40) scale(1 1.0580)" font-size="63.00" text-anchor="end">0</text>
<text transform="translate(283.50 1121.07) scale(1 1.0580)" font-size="63.00" text-anchor="end">200</text>
<text transform="translate(283.50 917.73) scale(1 1.0580)" font-size="63.00" text-anchor="end">400</text>
<text transform="translate(283.50 714.40) scale(1 1.0580)" font-size="63.00" text-anchor="end">600</text>
<text transform="translate(283.50 511.06) scale(1 1.0580)" font-size="63.00" text-anchor="end">800</text>
<text transform="translate(283.50 307.73) scale(1 1.0580)" font-size="63.00" text-anchor="end">1000</text>
<text transform="translate(283.50 104.40) scale(1 1.0580)" font-size="63.00" text-anchor="end">1200</text>
<text transform="translate(586.00 1391.50) scale(1 1.0500)" font-size="63.00" text-anchor="middle">40</text>
<text transform="translate(1142.00 1391.50) scale(1 1.0500)" font-size="63.00" text-anchor="middle">45</text>
<text transform="translate(1698.50 1391.50) scale(1 1.0500)" font-size="63.00" text-anchor="middle">50</text>
<text transform="translate(103.00 973.70) rotate(-90) scale(1 1.0350)" font-size="73.80">Intensity / cps</text>
<text transform="translate(928.40 1509.00) scale(1 1.0550)" font-size="71.70">2</text>
<text transform="translate(1055.10 1509.00) scale(1 1.0550)" font-size="71.70">degrees</text>
<text transform="translate(968.05 1509) scale(1.175 1)" font-size="66.1" style="font-family:'Liberation Serif','Times New Roman',serif">&#952;</text>
<text transform="translate(1020.00 1509) scale(0.92 1)" font-size="67" style="font-family:'Liberation Serif','Times New Roman',serif">/</text>
<text transform="translate(548.35 256.90) scale(1 1.0400)" font-size="56.66">Pt (30 min)</text>
<text transform="translate(548.35 329.30) scale(1 1.0400)" font-size="56.66">Pt (0 min)</text>
<text transform="translate(548.35 400.20) scale(1 1.0400)" font-size="56.66">Pt (15 min)</text>
</g>
<g fill="none" stroke-width="6.5" stroke-linecap="round"><line x1="406" y1="237.8" x2="532" y2="237.8" stroke="#000"/><line x1="406" y1="309.8" x2="532" y2="309.8" stroke="#f00"/><line x1="406" y1="380.7" x2="532" y2="380.7" stroke="#00f"/></g>
<g fill="#000" style="font-family:'Liberation Sans',Arial,Helvetica,sans-serif;font-kerning:none">
<text transform="translate(417.00 1192.18) rotate(-90) scale(1 1.0480)" font-size="58.10">Ti 002</text>
<text transform="translate(608.80 1191.98) rotate(-90) scale(1 1.0480)" font-size="58.10">Ti 101</text>
<text transform="translate(893.00 1020.86) rotate(-90) scale(1 1.0480)" font-size="58.10">Cu-Pt 111</text>
<text transform="translate(1041.00 344.46) rotate(-90) scale(1 1.0480)" font-size="58.10">Cu 111</text>
<text transform="translate(1700.00 1089.26) rotate(-90) scale(1 1.0480)" font-size="58.10">Cu-Pt 200</text>
<text transform="translate(1834.00 930.26) rotate(-90) scale(1 1.0480)" font-size="58.10">Cu 200</text>
</g>
<line x1="881.2" y1="1059.8" x2="893.7" y2="1136.9" stroke="#000" stroke-width="3.2"/><polygon fill="#000" points="884.9,1136.3 898.8,1168.0 901.9,1133.6"/>
<line x1="1690.5" y1="1117.2" x2="1690.5" y2="1190.3" stroke="#000" stroke-width="3.0"/><polygon fill="#000" points="1682.1,1188.3 1690.5,1219.8 1698.9,1188.3"/>
<rect x="1357" y="88" width="563" height="485" fill="#fff"/>
<g clip-path="url(#ci)" fill="none" stroke-linejoin="round" stroke-linecap="round">
<path stroke="#000" stroke-width="5" d="M1348.8 496.0L1352.6 505.0L1356.4 498.4L1360.1 499.8L1363.9 498.9L1367.6 496.0L1371.4 497.5L1375.2 505.9L1378.9 507.6L1382.7 499.6L1386.4 505.4L1394.0 499.4L1397.7 507.1L1401.5 508.3L1405.3 500.3L1412.8 501.0L1416.5 499.7L1420.3 502.3L1424.1 504.1L1427.8 499.3L1431.6 501.5L1435.4 503.3L1439.1 495.6L1442.9 496.9L1446.6 494.7L1450.4 498.9L1454.2 497.2L1457.9 497.9L1461.7 497.0L1465.4 492.6L1469.2 495.1L1473.0 490.1L1476.7 488.8L1480.5 481.1L1484.3 490.9L1488.0 479.3L1491.8 479.6L1495.5 476.5L1499.3 480.0L1503.1 474.2L1506.8 467.6L1510.6 469.2L1514.4 466.9L1518.1 467.0L1521.9 459.6L1525.6 463.0L1529.4 470.5L1533.2 462.1L1540.7 467.9L1544.5 452.4L1548.2 439.9L1552.0 439.7L1555.7 438.1L1559.5 430.5L1563.3 416.1L1567.0 417.3L1570.8 414.4L1574.5 410.7L1578.3 405.4L1582.1 395.9L1585.8 389.8L1589.6 378.8L1593.4 374.0L1597.1 358.7L1600.9 356.3L1604.6 339.3L1608.4 339.6L1612.2 325.3L1615.9 314.8L1619.7 311.0L1623.5 295.0L1627.2 291.7L1631.0 294.3L1634.7 287.2L1638.5 285.7L1642.3 291.8L1646.0 279.1L1649.8 274.8L1657.3 257.9L1657.7 253.9L1659.2 246.9L1659.9 241.5L1663.7 194.2L1667.5 162.1L1671.6 108.1L1674.6 48.8L1678.0 -41.9L1678.4 -43.4L1740.1 -43.4L1745.0 94.0L1749.9 268.5L1752.5 343.3L1753.6 363.1L1755.5 384.0L1758.9 410.8L1759.3 411.5L1760.4 418.2L1762.6 435.2L1766.4 443.4L1770.2 448.9L1773.9 462.2L1781.5 473.6L1785.2 477.1L1789.0 487.4L1792.7 485.7L1796.5 490.9L1800.3 487.4L1804.0 495.5L1807.8 492.8L1811.6 491.2L1815.3 498.4L1819.1 500.3L1822.8 498.6L1826.6 499.9L1830.4 503.9L1837.9 495.8L1841.6 503.7L1845.4 504.3L1849.2 507.6L1852.9 504.0L1856.7 509.5L1860.5 509.8L1864.2 503.4L1868.0 510.8L1871.7 505.8L1875.5 505.6L1879.3 510.6L1883.0 511.0L1886.8 508.3L1890.6 515.6L1894.3 517.8L1898.1 520.9L1905.6 515.0L1909.4 517.1L1913.1 522.7L1916.9 523.0L1920.7 522.6L1924.4 521.0L1928.2 522.6"/>
<path stroke="#f0f" stroke-width="6" d="M1346.9 517.1L1377.8 515.4L1404.1 513.4L1426.7 511.0L1446.3 508.2L1462.8 504.8L1477.9 500.8L1484.6 498.5L1491.4 495.8L1497.4 493.2L1503.4 490.2L1512.5 484.9L1521.5 478.7L1530.5 471.4L1538.8 463.6L1548.6 453.1L1558.4 441.1L1568.2 427.8L1588.5 398.8L1593.7 391.9L1598.2 386.5L1604.3 380.5L1609.5 376.6L1612.5 375.0L1614.8 374.1L1617.8 373.5L1620.1 373.3L1622.3 373.5L1624.6 374.0L1626.8 374.8L1629.8 376.3L1635.1 380.1L1641.1 386.0L1645.6 391.3L1650.9 398.2L1672.7 429.2L1682.5 442.4L1693.0 455.1L1702.8 465.4L1711.9 473.6L1721.6 481.1L1732.2 487.8L1742.7 493.3L1749.5 496.3L1756.3 498.8L1763.8 501.3L1771.3 503.4L1779.6 505.4L1788.6 507.3L1808.2 510.4L1831.5 513.0L1859.3 515.2L1892.4 517.1L1931.6 518.6"/>
<path stroke="#f0f" stroke-width="6" d="M1346.9 521.1L1435.7 519.7L1475.6 518.7L1497.4 517.9L1511.0 516.9L1524.5 515.3L1538.8 513.1L1559.1 509.5L1571.9 506.7L1582.4 503.7L1590.0 500.6L1597.5 496.5L1607.3 489.7L1615.6 482.7L1619.3 478.9L1622.3 475.4L1625.3 471.4L1628.3 466.8L1631.4 461.3L1633.6 456.5L1638.1 444.9L1643.4 428.0L1647.2 412.5L1651.7 389.7L1656.2 362.6L1659.2 340.5L1663.0 307.1L1666.0 277.5L1668.2 251.8L1671.2 205.4L1673.5 159.9L1676.5 88.4L1681.0 -37.8L1681.8 -43.4L1735.2 -43.4L1735.9 -37.8L1739.7 69.3L1744.2 176.0L1747.2 230.7L1748.7 251.8L1751.0 277.5L1755.5 321.2L1758.5 346.5L1761.5 367.5L1765.3 389.7L1769.8 412.5L1773.6 428.0L1778.1 442.7L1780.3 449.0L1783.3 456.5L1787.1 464.2L1790.9 470.3L1795.4 476.3L1800.6 482.0L1807.4 488.0L1815.7 494.1L1823.2 498.7L1830.0 502.0L1838.3 504.9L1848.8 507.6L1861.6 510.2L1881.1 513.6L1893.9 515.5L1906.0 516.9L1917.3 517.8L1931.6 518.4"/>
</g>
<rect x="1356" y="524" width="237" height="4" fill="#0f0"/>
<rect x="1593" y="524" width="328" height="2" fill="#0f0"/>
<rect x="1593" y="527" width="328" height="1.2" fill="#0f0"/>
<g stroke="#000" fill="none">
<line x1="1356" y1="87" x2="1356" y2="574.5" stroke-width="2"/>
<line x1="1355" y1="573.3" x2="1921" y2="573.3" stroke-width="3"/>
<line x1="1356" y1="555.00" x2="1364.0" y2="555.00" stroke-width="2"/>
<line x1="1356" y1="461.50" x2="1360.5" y2="461.50" stroke-width="2"/>
<line x1="1356" y1="368.00" x2="1364.0" y2="368.00" stroke-width="2"/>
<line x1="1356" y1="274.50" x2="1360.5" y2="274.50" stroke-width="2"/>
<line x1="1356" y1="181.00" x2="1364.0" y2="181.00" stroke-width="2"/>
<line x1="1356" y1="87.50" x2="1360.5" y2="87.50" stroke-width="2"/>
<line x1="1450.40" y1="573.3" x2="1450.40" y2="566.0" stroke-width="2.2"/>
<line x1="1544.45" y1="573.3" x2="1544.45" y2="569.5" stroke-width="2.2"/>
<line x1="1638.50" y1="573.3" x2="1638.50" y2="566.0" stroke-width="2.2"/>
<line x1="1732.55" y1="573.3" x2="1732.55" y2="569.5" stroke-width="2.2"/>
<line x1="1826.60" y1="573.3" x2="1826.60" y2="566.0" stroke-width="2.2"/>
</g>
<g fill="#000" style="font-family:'Liberation Sans',Arial,Helvetica,sans-serif;font-kerning:none">
<text transform="translate(1348.20 569.80) scale(1 1.0290)" font-size="56.20" text-anchor="end">0</text>
<text transform="translate(1348.20 382.80) scale(1 1.0290)" font-size="56.20" text-anchor="end">100</text>
<text transform="translate(1348.20 195.80) scale(1 1.0290)" font-size="56.20" text-anchor="end">200</text>
<text transform="translate(1472.40 652.30) scale(1 1.0300)" font-size="56.60" text-anchor="middle">42</text>
<text transform="translate(1660.50 652.30) scale(1 1.0300)" font-size="56.60" text-anchor="middle">43</text>
<text transform="translate(1848.60 652.30) scale(1 1.0300)" font-size="56.60" text-anchor="middle">44</text>
<text transform="translate(1542.00 360.17) rotate(-90) scale(1 1.0480)" font-size="58.30">Cu-Pt 111</text>
</g>
<line x1="1561.5" y1="267.6" x2="1599.7" y2="334.6" stroke="#000" stroke-width="3.0"/><polygon fill="#000" points="1593.0,336.1 1620.0,370.2 1604.4,329.6"/>
</svg>
</body></html>
